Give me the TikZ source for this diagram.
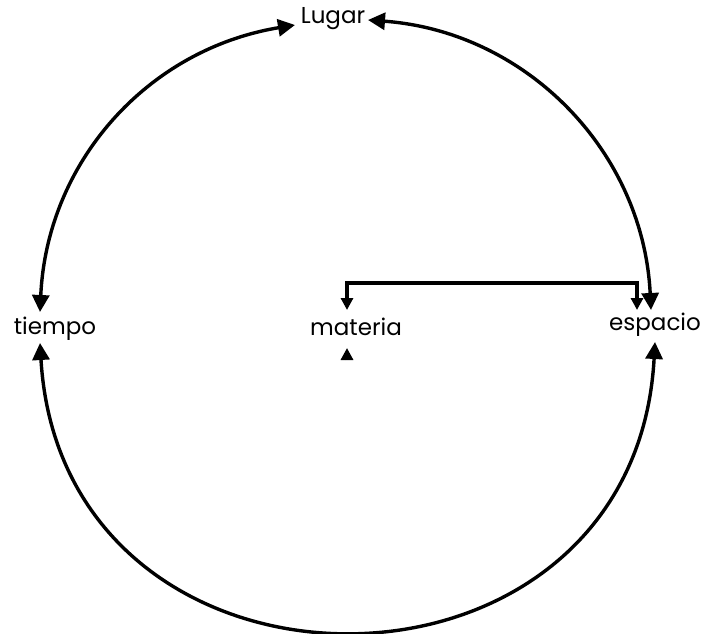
\documentclass[tikz,border=0pt]{standalone}
\usepackage{fontspec}
\setmainfont{Poppins}
\usetikzlibrary{arrows.meta}
\tikzset{
  lbl/.style={inner sep=0pt, font=\fontsize{23}{26}\selectfont},
  big/.style={line width=3.4pt, {Triangle[length=17pt,width=17pt]}-{Triangle[length=17pt,width=17pt]}},
  small/.style={line width=3.2pt, {Triangle[length=12pt,width=12pt]}-{Triangle[length=12pt,width=12pt]}},
  tip/.style={line width=3.2pt, -{Triangle[length=12pt,width=12pt]}}
}
\begin{document}
\begin{tikzpicture}[x=1pt,y=1pt]
\useasboundingbox (0,0) rectangle (707,633);
\node[lbl] (lugar) at (333,614) {Lugar};
\node[lbl] (tiempo) at (55,304) {tiempo};
\node[lbl] (materia) at (356,306) {materia};
\node[lbl] (espacio) at (655,308) {espacio};
% attachment points
\coordinate (tN) at ([shift={(-15,17)}]tiempo.center);
\coordinate (tS) at ([shift={(-15,-14)}]tiempo.center);
\coordinate (lW) at ([shift={(-38,-6)}]lugar.center);
\coordinate (lE) at ([shift={(35,-1)}]lugar.center);
\coordinate (eN) at ([shift={(-4,15)}]espacio.center);
\coordinate (eS) at ([shift={(0,-17)}]espacio.center);
\coordinate (eM) at ([shift={(-18,15)}]espacio.center);
\coordinate (mN) at ([shift={(-9,17)}]materia.center);
\coordinate (mS) at ([shift={(-9,-21)}]materia.center);
\coordinate (mSb) at ([shift={(-9,-33)}]materia.center);
% arcs
\draw[big] (tN) to[bend left=39] (lW);
\draw[big] (lE) to[bend left=41.5] (eN);
\draw[big] (tS) to[out=-86.6,in=-93.1,looseness=1.6] (eS);
% orthogonal connector
\draw[small] (eM) |- ([yshift=27]mN) -- (mN);
\draw[tip] (mSb) -- (mS);
\end{tikzpicture}
\end{document}
